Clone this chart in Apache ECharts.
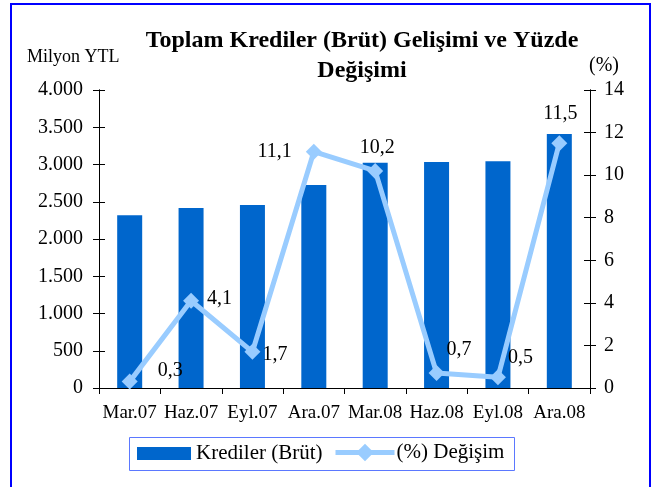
<!DOCTYPE html>
<html>
<head>
<meta charset="utf-8">
<script src="https://cdn.jsdelivr.net/npm/echarts@6/dist/echarts.min.js"></script>
<style>
  html, body { margin: 0; padding: 0; background: #fff; }
  #chart { width: 654px; height: 487px; }
</style>
</head>
<body>
<div id="chart"></div>
<script>
var categories = ['Mar.07', 'Haz.07', 'Eyl.07', 'Ara.07', 'Mar.08', 'Haz.08', 'Eyl.08', 'Ara.08'];
var krediler = [2320, 2415, 2455, 2725, 3025, 3035, 3045, 3410];
var degisim = [0.3, 4.1, 1.7, 11.1, 10.2, 0.7, 0.5, 11.5];

// where each % label sits next to its point
var labelPlace = [
  { position: 'right', offset: [15, -11] },
  { position: 'right', offset: [3, -2] },
  { position: 'right', offset: [-3, 3] },
  { position: 'left', offset: [-9, 0] },
  { position: 'top', offset: [2, 0] },
  { position: 'right', offset: [-3, -23] },
  { position: 'right', offset: [-3, -20] },
  { position: 'top', offset: [1, -6] }
];

var serif = '"Liberation Serif", "DejaVu Serif", serif';

function fmtThousands(v) {
  return String(v).replace(/\B(?=(\d{3})+(?!\d))/g, '.');
}

var axisCommon = {
  axisLine: { show: true, lineStyle: { color: '#000', width: 1 } },
  splitLine: { show: false }
};

var chart = echarts.init(document.getElementById('chart'));
chart.setOption({
  animation: false,
  backgroundColor: '#fff',
  title: {
    text: 'Toplam Krediler (Brüt) Gelişimi ve Yüzde\nDeğişimi',
    left: 357,
    top: 21,
    textAlign: 'center',
    textStyle: { fontFamily: serif, fontSize: 24, fontWeight: 'bold', color: '#000', lineHeight: 30 }
  },
  graphic: [
    { type: 'rect', shape: { x: 11, y: 4, width: 639, height: 500 }, style: { fill: 'none', stroke: '#0000ff', lineWidth: 2 }, silent: true },
    { type: 'rect', shape: { x: 129.5, y: 437.5, width: 385, height: 33 }, style: { fill: 'none', stroke: '#5b78ff', lineWidth: 1 }, silent: true },
    { type: 'text', left: 27, top: 48, style: { text: 'Milyon YTL', font: '18px ' + serif, fill: '#000' } },
    { type: 'text', left: 589, top: 56, style: { text: '(%)', font: '20px ' + serif, fill: '#000' } }
  ],
  grid: { left: 99, right: 64, top: 90, bottom: 99 },
  legend: [
    {
      left: 137,
      top: 443,
      padding: 0,
      itemWidth: 54,
      itemHeight: 13,
      textStyle: { fontFamily: serif, fontSize: 21, color: '#000' },
      data: [{ name: 'Krediler (Brüt)', icon: 'rect' }]
    },
    {
      left: 333,
      top: 442,
      padding: 0,
      itemWidth: 59,
      itemHeight: 22,
      textStyle: { fontFamily: serif, fontSize: 21, color: '#000', padding: [0, 0, 0, -3] },
      lineStyle: { width: 5 },
      data: [{ name: '(%) Değişim' }]
    }
  ],
  xAxis: [{
    type: 'category',
    data: categories,
    axisLine: { show: true, lineStyle: { color: '#000' } },
    axisTick: { show: true, length: 6, lineStyle: { color: '#000' } },
    axisLabel: { interval: 0, fontFamily: serif, fontSize: 19, color: '#000', margin: 16 }
  }],
  yAxis: [
    Object.assign({
      type: 'value', min: 0, max: 4000, interval: 500, position: 'left',
      axisTick: { show: true, length: 6, lineStyle: { color: '#000' } },
      axisLabel: { fontFamily: serif, fontSize: 20, color: '#000', margin: 16, formatter: fmtThousands }
    }, axisCommon),
    Object.assign({
      type: 'value', min: 0, max: 14, interval: 2, position: 'right',
      axisTick: { show: true, length: 6, lineStyle: { color: '#000' } },
      axisLabel: { fontFamily: serif, fontSize: 20, color: '#000', margin: 14 }
    }, axisCommon),
    // inner halves of the crossing tick marks
    Object.assign({
      type: 'value', min: 0, max: 4000, interval: 500, position: 'left',
      axisTick: { show: true, inside: true, length: 6, lineStyle: { color: '#000' } },
      axisLabel: { show: false }
    }, axisCommon),
    Object.assign({
      type: 'value', min: 0, max: 14, interval: 2, position: 'right',
      axisTick: { show: true, inside: true, length: 6, lineStyle: { color: '#000' } },
      axisLabel: { show: false }
    }, axisCommon)
  ],
  series: [
    {
      name: 'Krediler (Brüt)',
      type: 'bar',
      data: krediler,
      barWidth: 25,
      itemStyle: { color: '#0066cc' },
      yAxisIndex: 0
    },
    {
      name: '(%) Değişim',
      type: 'line',
      yAxisIndex: 1,
      symbol: 'diamond',
      symbolSize: 16,
      lineStyle: { color: '#99ccff', width: 5 },
      itemStyle: { color: '#99ccff' },
      data: degisim.map(function (v, i) {
        return {
          value: v,
          label: {
            show: true,
            position: labelPlace[i].position,
            offset: labelPlace[i].offset,
            distance: 5,
            fontFamily: serif,
            fontSize: 20,
            color: '#000',
            formatter: function (p) { return p.value.toFixed(1).replace('.', ','); }
          }
        };
      })
    }
  ]
});
</script>
</body>
</html>
